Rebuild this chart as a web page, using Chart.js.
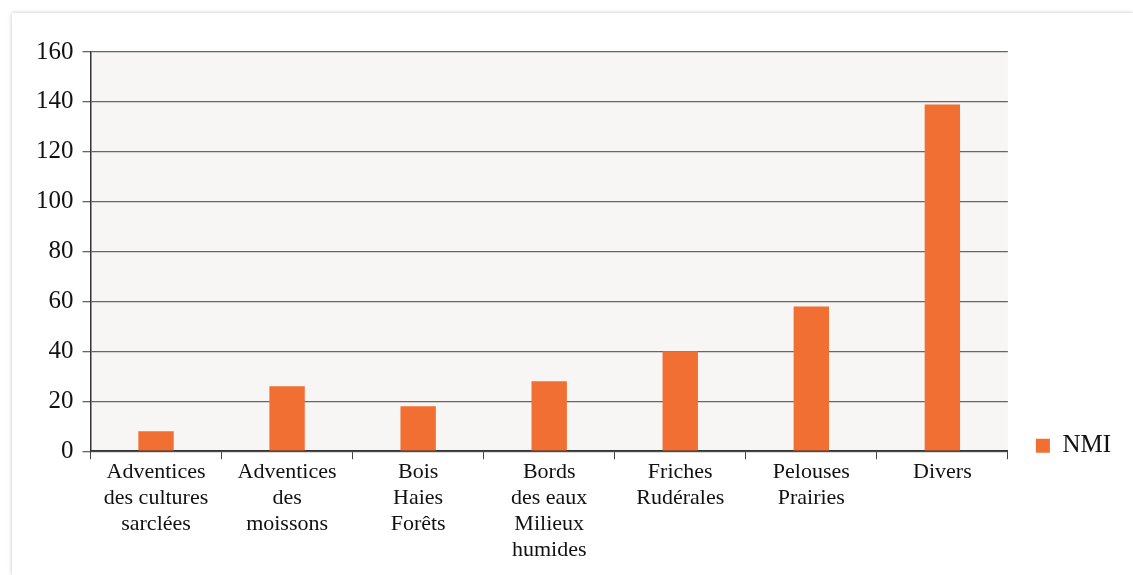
<!DOCTYPE html>
<html>
<head>
<meta charset="utf-8">
<script src="https://cdn.jsdelivr.net/npm/chart.js@4"></script>
<style>
  html, body { margin: 0; padding: 0; background: #ffffff; }
  .card {
    position: absolute; left: 12px; top: 13px; width: 1121px; height: 562px;
    background: #fff; box-shadow: 0 0 4px rgba(0,0,0,0.25);
  }
  #chart { display: block; }
</style>
</head>
<body>
<div class="card">
  <canvas id="chart" width="1121" height="562"></canvas>
</div>
<script>
// categories, multi-line like the original
const categories = [
  ['Adventices', 'des cultures', 'sarclées'],
  ['Adventices', 'des', 'moissons'],
  ['Bois', 'Haies', 'Forêts'],
  ['Bords', 'des eaux', 'Milieux', 'humides'],
  ['Friches', 'Rudérales'],
  ['Pelouses', 'Prairies'],
  ['Divers']
];
const nmiValues = [8, 26, 18, 28, 40, 58, 139];
const seriesName = 'NMI';
const yMax = 160;
const yStep = 20;

const barColor = '#f26f33';
const fontFamily = '"Liberation Serif", "DejaVu Serif", serif';

// light background behind the plot only
const plotBg = {
  id: 'plotBg',
  afterLayout(chart) {
    // legend sits down next to the x axis, like the original
    const lg = chart.legend;
    if (lg) {
      lg.bottom = chart.chartArea.bottom + 17;
      lg.left = chart.chartArea.right + 18;
      lg.right = chart.width;
    }
  },
  beforeDraw(chart) {
    const {ctx, chartArea: a} = chart;
    ctx.save();
    ctx.fillStyle = '#f7f6f4';
    ctx.fillRect(a.left, a.top, a.right - a.left, a.bottom - a.top);
    ctx.restore();
  }
};

new Chart(document.getElementById('chart'), {
  type: 'bar',
  data: {
    labels: categories,
    datasets: [{
      label: seriesName,
      data: nmiValues,
      backgroundColor: barColor,
      borderWidth: 0,
      barPercentage: 0.27,
      categoryPercentage: 1.0
    }]
  },
  options: {
    responsive: false,
    animation: false,
    layout: { padding: { top: 39, left: 15, right: 30, bottom: 12 } },
    plugins: {
      legend: {
        position: 'right',
        align: 'end',
        labels: {
          color: '#111',
          font: { family: fontFamily, size: 25 },
          boxWidth: 14,
          boxHeight: 14,
          padding: 10
        }
      },
      tooltip: { enabled: false }
    },
    scales: {
      x: {
        grid: {
          display: true,
          drawOnChartArea: false,
          drawTicks: true,
          tickLength: 8,
          offset: true,
          color: '#444'
        },
        border: { display: true, color: '#333', width: 1.5 },
        ticks: {
          color: '#111',
          font: { family: fontFamily, size: 22, lineHeight: 1.18 },
          maxRotation: 0,
          autoSkip: false,
          padding: 0
        }
      },
      y: {
        min: 0,
        max: yMax,
        ticks: {
          stepSize: yStep,
          color: '#111',
          font: { family: fontFamily, size: 25 },
          padding: 9
        },
        grid: {
          color: '#666',
          lineWidth: 1.3,
          drawTicks: true,
          tickLength: 8
        },
        border: { display: true, color: '#333', width: 1.5 }
      }
    }
  },
  plugins: [plotBg]
});
</script>
</body>
</html>
